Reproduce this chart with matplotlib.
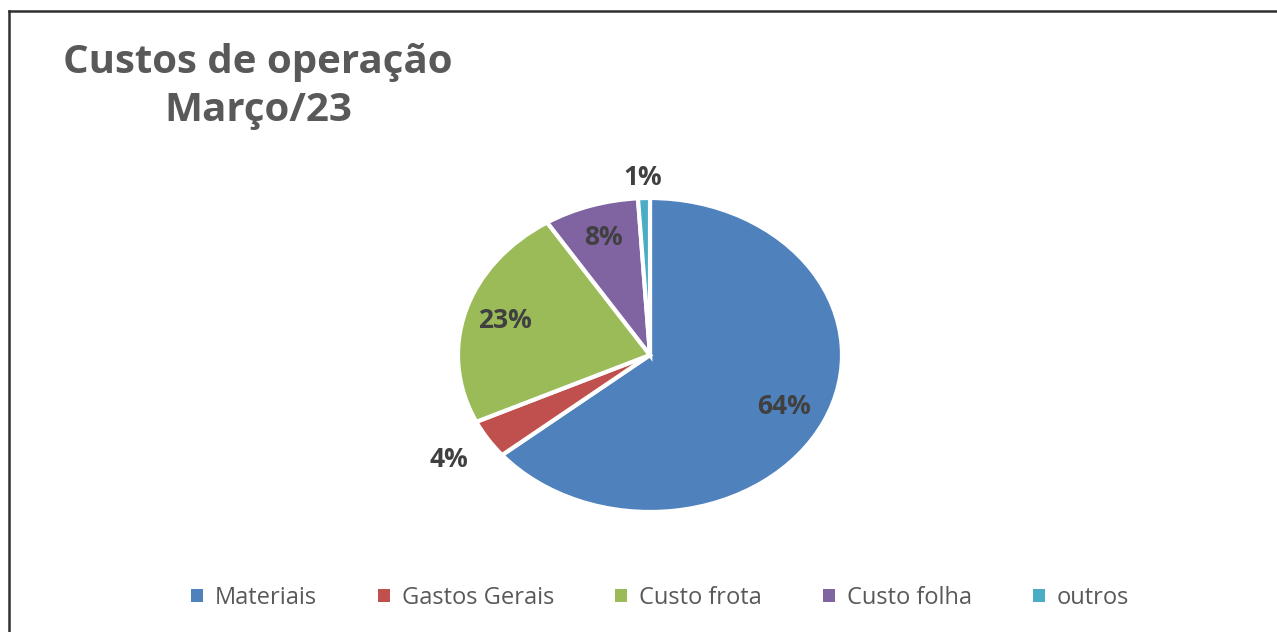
import numpy as np
import matplotlib.pyplot as plt
from matplotlib.lines import Line2D
from matplotlib.patches import Patch

# Data
categories = ['Materiais', 'Gastos Gerais', 'Custo frota', 'Custo folha', 'outros']
values = [64, 4, 23, 8, 1]
colors = ['#4F81BD', '#C0504D', '#9BBB59', '#8064A2', '#4BACC6']
label_dist = [0.77, 1.24, 0.785, 0.79, 1.13]

plt.rcParams['font.family'] = ['Open Sans', 'DejaVu Sans']

fig = plt.figure(figsize=(12.77, 6.32), dpi=100)
fig.patch.set_facecolor('white')

# pie axes sized so the pie is drawn as a wide ellipse
W, H = 1277, 632
cx, cy, rx, ry = 650, 355, 192, 157
lim = 1.2
ax = fig.add_axes([(cx - lim * rx) / W, (H - cy - lim * ry) / H,
                   2 * lim * rx / W, 2 * lim * ry / H])

wedges, _ = ax.pie(values, colors=colors, startangle=90, counterclock=False,
                   wedgeprops=dict(edgecolor='white', linewidth=3))
ax.set_aspect('auto')
ax.set_xlim(-lim, lim)
ax.set_ylim(-lim, lim)
ax.axis('off')

for w, v, d in zip(wedges, values, label_dist):
    ang = np.deg2rad((w.theta1 + w.theta2) / 2)
    ax.text(d * np.cos(ang), d * np.sin(ang), f'{v}%', ha='center', va='center',
            fontsize=19, fontweight='bold', color='#404040')

# title
fig.text(258 / W, 1 - 62 / H, 'Custos de operação', ha='center', va='center',
         fontsize=29, fontweight='bold', color='#595959')
fig.text(258 / W, 1 - 110 / H, 'Março/23', ha='center', va='center',
         fontsize=29, fontweight='bold', color='#595959')

# legend
handles = [Patch(facecolor=c, edgecolor='none') for c in colors]
fig.legend(handles, categories, loc='center', bbox_to_anchor=(660 / W, 1 - 598 / H),
           ncol=5, frameon=False, fontsize=17, handlelength=0.5, handleheight=0.5,
           handletextpad=0.5, columnspacing=2.6, labelcolor='#595959')

# border lines (chart frame, partly cropped)
fig.add_artist(Line2D([9 / W, 1], [1 - 11 / H, 1 - 11 / H], color='#303030', linewidth=1.8))
fig.add_artist(Line2D([9 / W, 9 / W], [0, 1 - 11 / H], color='#303030', linewidth=1.8))

fig.savefig('out.png', dpi=100, facecolor='white')
